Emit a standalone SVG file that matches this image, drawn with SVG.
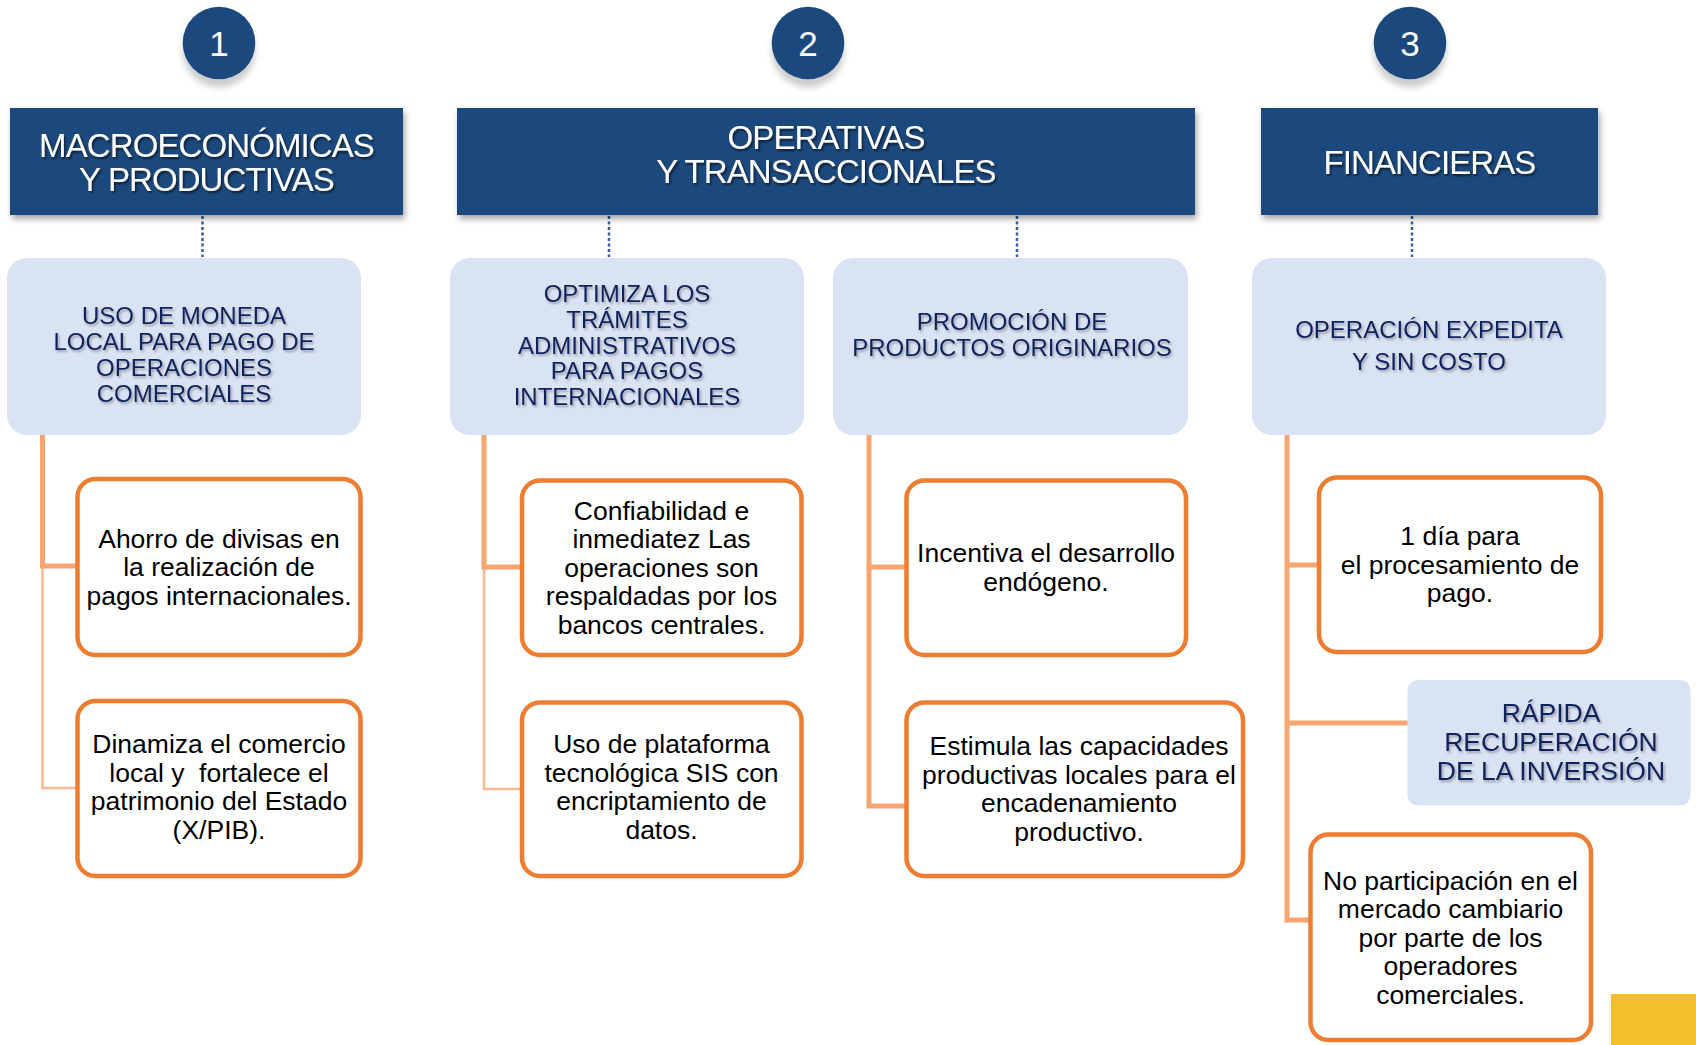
<svg xmlns="http://www.w3.org/2000/svg" width="1696" height="1045" viewBox="0 0 1696 1045">
<defs>
<style>
.hdr{fill:#1f497d}
.hdrt{font-family:"Liberation Sans",Arial,sans-serif;font-size:33px;fill:#ffffff;text-anchor:middle;letter-spacing:-0.9px}
.num{font-family:"Liberation Sans",Arial,sans-serif;font-size:35px;fill:#ffffff;text-anchor:middle}
.sub{fill:#dae3f3}
.subt{font-family:"Liberation Sans",Arial,sans-serif;font-size:24px;fill:#10215f;text-anchor:middle}
.big{font-size:26.5px}
.box{fill:#ffffff;stroke:#ed7d31;stroke-width:4.5}
.boxt{font-family:"Liberation Sans",Arial,sans-serif;font-size:26.5px;fill:#000000;text-anchor:middle}
.dot{fill:none;stroke:#3b5c9c;stroke-width:2.5;stroke-dasharray:3 2.5}
.ck{fill:none;stroke:#f6a570;stroke-width:5}
.cn{fill:none;stroke:#f9b98e;stroke-width:2.5}
</style>
<filter id="hs" x="-5%" y="-10%" width="112%" height="135%"><feDropShadow dx="2" dy="4" stdDeviation="3" flood-color="#000" flood-opacity="0.35"/></filter>
<filter id="cs" x="-30%" y="-30%" width="160%" height="170%"><feDropShadow dx="0" dy="8" stdDeviation="3" flood-color="#000" flood-opacity="0.2"/></filter>
<filter id="ts" x="-5%" y="-20%" width="110%" height="150%"><feDropShadow dx="1.5" dy="2" stdDeviation="1.3" flood-color="#000" flood-opacity="0.6"/></filter>
<filter id="tsl" x="-5%" y="-20%" width="110%" height="150%"><feDropShadow dx="1.5" dy="2" stdDeviation="1.3" flood-color="#444" flood-opacity="0.45"/></filter>
</defs>
<rect x="0" y="0" width="1696" height="1045" fill="#ffffff"/>

<g id="connectors">
<path class="dot" d="M202.5,216 V257"/>
<path class="dot" d="M609,216 V257"/>
<path class="dot" d="M1017,216 V257"/>
<path class="dot" d="M1412,216 V257"/>
<path class="cn" d="M42.5,566 V788 H77"/>
<path class="ck" d="M42.5,435 V566 H77"/>
<path class="cn" d="M484,567 V789 H520"/>
<path class="ck" d="M484,435 V567 H520"/>
<path class="ck" d="M869,435 V567 H905"/>
<path class="ck" d="M869,567 V806 H905"/>
<path class="ck" d="M1287,435 V920 H1309"/>
<path class="ck" d="M1287,565 H1317"/>
<path class="ck" d="M1287,723 H1408"/>
</g>

<g id="circle1"><circle cx="219" cy="43" r="36.3" class="hdr" filter="url(#cs)"/><text class="num" x="219" y="55.5">1</text></g>
<g id="circle2"><circle cx="808" cy="43" r="36.3" class="hdr" filter="url(#cs)"/><text class="num" x="808" y="55.5">2</text></g>
<g id="circle3"><circle cx="1410" cy="43" r="36.3" class="hdr" filter="url(#cs)"/><text class="num" x="1410" y="55.5">3</text></g>

<g id="header1"><rect x="10" y="108" width="393" height="107" class="hdr" filter="url(#hs)"/>
<text class="hdrt" filter="url(#ts)"><tspan x="206.5" y="156.5">MACROECONÓMICAS</tspan><tspan x="206.5" y="191">Y PRODUCTIVAS</tspan></text></g>
<g id="header2"><rect x="457" y="108" width="738" height="107" class="hdr" filter="url(#hs)"/>
<text class="hdrt" filter="url(#ts)"><tspan x="826" y="148.5">OPERATIVAS</tspan><tspan x="826" y="182.5">Y TRANSACCIONALES</tspan></text></g>
<g id="header3"><rect x="1261" y="108" width="337" height="107" class="hdr" filter="url(#hs)"/>
<text class="hdrt" filter="url(#ts)" x="1429.5" y="174">FINANCIERAS</text></g>

<g id="sub1"><rect x="7" y="258" width="354" height="177" rx="20" class="sub"/>
<text class="subt" filter="url(#tsl)"><tspan x="184" y="324">USO DE MONEDA</tspan><tspan x="184" y="350">LOCAL PARA PAGO DE</tspan><tspan x="184" y="376">OPERACIONES</tspan><tspan x="184" y="402">COMERCIALES</tspan></text></g>
<g id="sub2"><rect x="450" y="258" width="354" height="177" rx="20" class="sub"/>
<text class="subt" filter="url(#tsl)"><tspan x="627" y="302">OPTIMIZA LOS</tspan><tspan x="627" y="327.8">TRÁMITES</tspan><tspan x="627" y="353.5">ADMINISTRATIVOS</tspan><tspan x="627" y="379.3">PARA PAGOS</tspan><tspan x="627" y="405">INTERNACIONALES</tspan></text></g>
<g id="sub3"><rect x="833" y="258" width="355" height="177" rx="20" class="sub"/>
<text class="subt" filter="url(#tsl)"><tspan x="1012" y="330">PROMOCIÓN DE</tspan><tspan x="1012" y="356">PRODUCTOS ORIGINARIOS</tspan></text></g>
<g id="sub4"><rect x="1252" y="258" width="354" height="177" rx="20" class="sub"/>
<text class="subt" filter="url(#tsl)"><tspan x="1429" y="337.5">OPERACIÓN EXPEDITA</tspan><tspan x="1429" y="369.5">Y SIN COSTO</tspan></text></g>

<g id="box1a"><rect x="77.5" y="479" width="283" height="176" rx="18" class="box"/>
<text class="boxt"><tspan x="219" y="547.5">Ahorro de divisas en</tspan><tspan x="219" y="576">la realización de</tspan><tspan x="219" y="604.5">pagos internacionales.</tspan></text></g>
<g id="box1b"><rect x="77.5" y="701" width="283" height="175" rx="18" class="box"/>
<text class="boxt"><tspan x="219" y="753">Dinamiza el comercio</tspan><tspan x="219" y="781.5">local y&#160; fortalece el</tspan><tspan x="219" y="810">patrimonio del Estado</tspan><tspan x="219" y="838.5">(X/PIB).</tspan></text></g>

<g id="box2a"><rect x="522" y="480.5" width="279.5" height="174.5" rx="18" class="box"/>
<text class="boxt"><tspan x="661.5" y="519.5">Confiabilidad e</tspan><tspan x="661.5" y="548">inmediatez Las</tspan><tspan x="661.5" y="576.5">operaciones son</tspan><tspan x="661.5" y="605">respaldadas por los</tspan><tspan x="661.5" y="633.5">bancos centrales.</tspan></text></g>
<g id="box2b"><rect x="522" y="702.5" width="279.5" height="173.5" rx="18" class="box"/>
<text class="boxt"><tspan x="661.5" y="753">Uso de plataforma</tspan><tspan x="661.5" y="781.5">tecnológica SIS con</tspan><tspan x="661.5" y="810">encriptamiento de</tspan><tspan x="661.5" y="838.5">datos.</tspan></text></g>

<g id="box3a"><rect x="906.5" y="480.5" width="279.5" height="174.5" rx="18" class="box"/>
<text class="boxt"><tspan x="1046" y="562">Incentiva el desarrollo</tspan><tspan x="1046" y="590.5">endógeno.</tspan></text></g>
<g id="box3b"><rect x="906.5" y="702.5" width="336.5" height="173.5" rx="18" class="box"/>
<text class="boxt"><tspan x="1079" y="755">Estimula las capacidades</tspan><tspan x="1079" y="783.5">productivas locales para el</tspan><tspan x="1079" y="812">encadenamiento</tspan><tspan x="1079" y="840.5">productivo.</tspan></text></g>

<g id="box4a"><rect x="1319" y="477.5" width="282" height="174.5" rx="18" class="box"/>
<text class="boxt"><tspan x="1460" y="545">1 día para</tspan><tspan x="1460" y="573.5">el procesamiento de</tspan><tspan x="1460" y="602">pago.</tspan></text></g>
<g id="box4b"><rect x="1407.5" y="680" width="283" height="125.5" rx="10" class="sub"/>
<text class="subt big" filter="url(#tsl)"><tspan x="1551" y="722">RÁPIDA</tspan><tspan x="1551" y="751">RECUPERACIÓN</tspan><tspan x="1551" y="780">DE LA INVERSIÓN</tspan></text></g>
<g id="box4c"><rect x="1310.5" y="834.5" width="280.5" height="205.5" rx="18" class="box"/>
<text class="boxt"><tspan x="1450.5" y="889.5">No participación en el</tspan><tspan x="1450.5" y="918">mercado cambiario</tspan><tspan x="1450.5" y="946.5">por parte de los</tspan><tspan x="1450.5" y="975">operadores</tspan><tspan x="1450.5" y="1003.5">comerciales.</tspan></text></g>

<rect id="corner" x="1611" y="994" width="85" height="51" fill="#f3bf2d"/>
</svg>
